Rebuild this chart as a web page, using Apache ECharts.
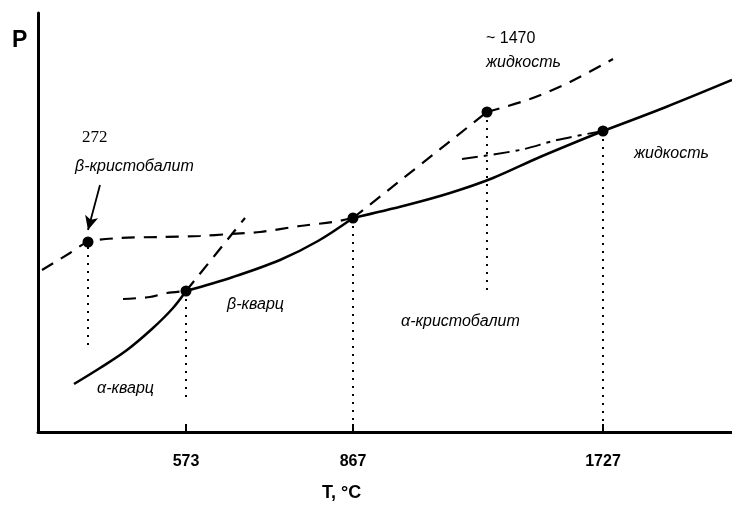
<!DOCTYPE html>
<html><head><meta charset="utf-8">
<script src="https://cdn.jsdelivr.net/npm/echarts@6/dist/echarts.min.js"></script>
<style>html,body{margin:0;padding:0;background:#fff}#c{width:732px;height:507px}</style>
</head><body><div id="c"></div>
<script>
// Schematic P–T diagram of SiO2 (axis units are schematic positions)
const tickPositions = [148, 315, 565];
const tickLabels = ['573', '867', '1727'];

// solid equilibrium curves
const alphaQuartz = [[36,48],[62,64],[89,82],[115,104],[135,124],[148,141]];
const betaQuartz = [[148,141],[195,155],[242,172],[280,191],[315,214]];
const cristobalite = [[315,214],[369,227],[412,239],[455,254],[502,275],[565,301]];
const liquid = [[565,301],[628,325],[694,352]];
// metastable extensions (dashed)
const cristobaliteLow = [[4,162],[32,179],[50,190],[82,194],[122,195],[162,196],[192,198],[222,200],[262,206],[295,210],[315,214]];
const betaQuartzLow = [[85,133],[112,135],[129,139],[148,141]];
const alphaQuartzHigh = [[148,141],[207,214]];
const betaQuartzHigh = [[315,214],[449,320]];
const liquidHigh = [[449,320],[492,333],[532,350],[575,373]];
const liquidLow = [[424,273],[482,282],[519,292],[565,301]];
// dotted drop lines
const dropLines = [
  [[50,185],[50,82]],
  [[148,141],[148,31]],
  [[315,214],[315,0]],
  [[449,320],[449,142]],
  [[565,301],[565,0]]
];
// transition points
const points = [[50,190],[148,141],[315,214],[449,320],[565,301]];
// arrow to the 272 point
const arrowFrom = [62,247], arrowTo = [50,202];

const chart = echarts.init(document.getElementById('c'), null, {renderer:'canvas'});
const dashStyle = {color:'#000', width:2.2, type:[13,9]};
const series = [];
[alphaQuartz, betaQuartz, cristobalite, liquid].forEach(d=>{
  series.push({type:'line', data:d, smooth:0.35, showSymbol:false, lineStyle:{color:'#000', width:2.5}, z:5});
});
[cristobaliteLow, betaQuartzLow, alphaQuartzHigh, betaQuartzHigh, liquidHigh].forEach(d=>{
  series.push({type:'line', data:d, smooth:0.3, showSymbol:false, lineStyle:dashStyle, z:4});
});
series.push({type:'line', data:liquidLow, smooth:0.3, showSymbol:false, lineStyle:{color:'#000', width:2, type:[16,6,4,6]}, z:4});
dropLines.forEach(d=>{
  series.push({type:'line', data:d, showSymbol:false, lineStyle:{color:'#000', width:2, type:[2,6]}, z:3});
});
series.push({type:'scatter', data:points, symbolSize:11, itemStyle:{color:'#000', opacity:1}, z:10,
  markLine:{silent:true, symbol:['none','arrow'], symbolSize:[10,14], label:{show:false},
    lineStyle:{color:'#000', width:1.8, type:'solid', opacity:1},
    data:[[{coord:arrowFrom},{coord:arrowTo}]]}});

const ital = {fontFamily:'Liberation Sans, Arial, sans-serif', fontStyle:'italic', fontSize:16, fill:'#000'};
function txt(x,y,t,extra){return {type:'text', left:x, top:y, style:Object.assign({text:t}, ital, extra||{})};}

chart.setOption({
  animation:false,
  grid:{left:38, right:0, top:13, bottom:75},
  xAxis:{type:'value', min:0, max:694,
    axisLine:{show:true, lineStyle:{color:'#000', width:3}},
    splitLine:{show:false},
    axisTick:{show:true, inside:true, length:8, customValues:tickPositions, lineStyle:{color:'#000', width:2}},
    axisLabel:{customValues:tickPositions, margin:22, fontSize:16, fontWeight:'bold', color:'#000',
      fontFamily:'Liberation Sans, Arial, sans-serif',
      formatter:(v)=>tickLabels[tickPositions.indexOf(v)] || ''}
  },
  yAxis:{type:'value', min:0, max:419,
    axisLine:{show:true, lineStyle:{color:'#000', width:3}},
    splitLine:{show:false}, axisTick:{show:false}, axisLabel:{show:false}},
  series:series,
  graphic:[
    txt(12,29,'P',{fontStyle:'normal', fontWeight:'bold', fontSize:23}),
    txt(82,129,'272',{fontStyle:'normal', fontFamily:'Liberation Serif, Times New Roman, serif', fontSize:17}),
    txt(75,159,'β-кристобалит'),
    txt(486,31,'~ 1470',{fontStyle:'normal'}),
    txt(486,55,'жидкость'),
    txt(634,146,'жидкость'),
    txt(227,297,'β-кварц'),
    txt(97,381,'α-кварц'),
    txt(401,314,'α-кристобалит'),
    txt(322,484,'T, °C',{fontStyle:'normal', fontWeight:'bold', fontSize:18})
  ]
});
</script></body></html>
